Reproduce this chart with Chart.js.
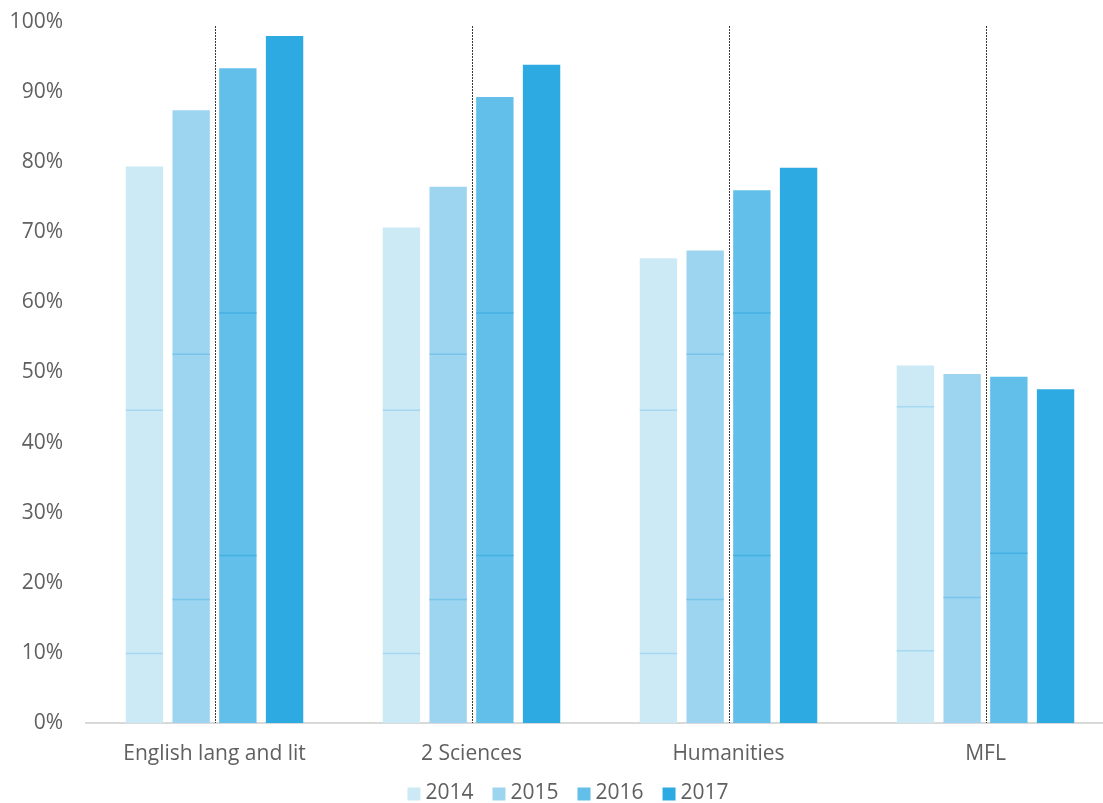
<!DOCTYPE html>
<html>
<head>
<meta charset="utf-8">
<script src="https://cdn.jsdelivr.net/npm/chart.js@4"></script>
<style>
  html, body { margin: 0; padding: 0; background: #fff; overflow: hidden; }
  canvas { display: block; }
</style>
</head>
<body>
<canvas id="chart" width="1136" height="803"></canvas>
<script>
// Subjects and yearly shares (percent)
const categories = ['English lang and lit', '2 Sciences', 'Humanities', 'MFL'];
const years = ['2014', '2015', '2016', '2017'];
const values2014 = [79.4, 70.7, 66.3, 51.0];
const values2015 = [87.4, 76.5, 67.4, 49.8];
const values2016 = [93.4, 89.3, 76.0, 49.4];
const values2017 = [98.0, 93.9, 79.2, 47.6];

// Faint rule levels inside each bar (percent), per subject
const rules2014 = [[9.9, 44.6], [9.9, 44.6], [9.9, 44.6], [10.3, 45.1]];
const rules2015 = [[17.6, 52.6], [17.6, 52.6], [17.6, 52.6], [17.9]];
const rules2016 = [[23.9, 58.5], [23.9, 58.5], [23.9, 58.5], [24.2]];
const rules2017 = [[], [], [], []];

// Y-axis ticks
const yTicks = [0, 10, 20, 30, 40, 50, 60, 70, 80, 90, 100];

const colors = ['#cce9f6', '#9dd5f0', '#62bfe9', '#2eaae3'];
const ruleColors = ['#a6d9f1', '#78c4ea', '#44b1e3', '#2eaae3'];
const textColor = '#606060';
const fontFamily = '"Open Sans", Lato, sans-serif';
const fontSize = 21;

const seriesValues = [values2014, values2015, values2016, values2017];
const seriesRules = [rules2014, rules2015, rules2016, rules2017];

// Dotted separators at each subject's centre
const centreLines = {
  id: 'centreLines',
  beforeDatasetsDraw(chart) {
    const { ctx, chartArea, scales } = chart;
    ctx.save();
    ctx.strokeStyle = '#3a3a3a';
    ctx.lineWidth = 1;
    ctx.setLineDash([2, 1]);
    categories.forEach((c, i) => {
      const x = Math.round(scales.x.getPixelForValue(i)) + 0.5;
      ctx.beginPath();
      ctx.moveTo(x, chartArea.top + 4);
      ctx.lineTo(x, chartArea.bottom);
      ctx.stroke();
    });
    ctx.restore();
  }
};

// Faint rules drawn across bars at given levels
const barRules = {
  id: 'barRules',
  afterDatasetsDraw(chart) {
    const { ctx, scales } = chart;
    ctx.save();
    ctx.lineWidth = 1.5;
    chart.data.datasets.forEach((ds, di) => {
      const meta = chart.getDatasetMeta(di);
      meta.data.forEach((bar, i) => {
        const half = bar.width / 2;
        (seriesRules[di][i] || []).forEach(v => {
          const y = scales.y.getPixelForValue(v);
          ctx.strokeStyle = ruleColors[di];
          ctx.beginPath();
          ctx.moveTo(bar.x - half, y);
          ctx.lineTo(bar.x + half, y);
          ctx.stroke();
        });
      });
    });
    ctx.restore();
  }
};

// Legend row at the bottom, centred
const bottomLegend = {
  id: 'bottomLegend',
  afterDraw(chart) {
    const { ctx, width, height } = chart;
    ctx.save();
    ctx.font = fontSize + 'px ' + fontFamily;
    ctx.textBaseline = 'middle';
    const box = 13, gapText = 5, gapItem = 19;
    const items = chart.data.datasets.map(ds => ({ text: ds.label, color: ds.backgroundColor, w: ctx.measureText(ds.label).width }));
    const total = items.reduce((s, it) => s + box + gapText + it.w, 0) + gapItem * (items.length - 1);
    let x = width / 2 - total / 2;
    const cy = height - 10;
    items.forEach(it => {
      ctx.fillStyle = it.color;
      ctx.fillRect(x, cy - box / 2 + 1, box, box);
      x += box + gapText;
      ctx.fillStyle = textColor;
      ctx.fillText(it.text, x, cy);
      x += it.w + gapItem;
    });
    ctx.restore();
  }
};

new Chart(document.getElementById('chart'), {
  type: 'bar',
  data: {
    labels: categories,
    datasets: years.map((y, i) => ({
      label: y,
      data: seriesValues[i],
      backgroundColor: colors[i],
      borderWidth: 0,
      categoryPercentage: 0.727,
      barPercentage: 0.8
    }))
  },
  options: {
    responsive: false,
    animation: false,
    layout: { padding: { left: 0, right: 22, top: 22, bottom: 32 } },
    plugins: {
      legend: { display: false },
      tooltip: { enabled: false }
    },
    scales: {
      x: {
        afterFit(scale) { scale.height = 48; scale.paddingLeft = 0; scale.paddingRight = 0; },
        grid: { display: false, drawTicks: false },
        border: { display: true, color: '#d9d9d9', width: 2 },
        ticks: { color: textColor, font: { family: fontFamily, size: fontSize }, padding: 18, maxRotation: 0 }
      },
      y: {
        min: 0,
        max: 100,
        afterBuildTicks(scale) { scale.ticks = yTicks.map(v => ({ value: v })); },
        afterFit(scale) { scale.width = 86; scale.paddingTop = 0; scale.paddingBottom = 0; },
        grid: { display: false, drawTicks: false },
        border: { display: false },
        ticks: {
          color: textColor,
          font: { family: fontFamily, size: fontSize },
          padding: 23,
          callback: v => v + '%'
        }
      }
    }
  },
  plugins: [centreLines, barRules, bottomLegend]
});
</script>
</body>
</html>
